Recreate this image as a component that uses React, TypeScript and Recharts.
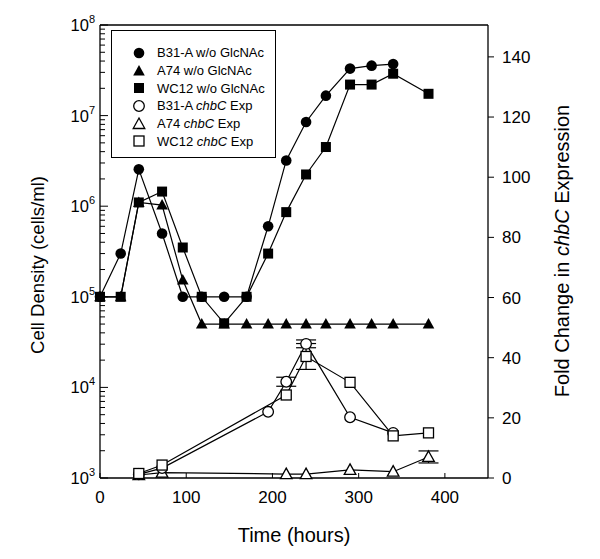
import React from "react";
import {
  ComposedChart,
  Line,
  XAxis,
  YAxis,
  ReferenceLine,
  ErrorBar,
  Legend,
} from "recharts";

// sampling times (hours)
const times = [0, 24, 45, 72, 96, 118, 144, 170, 195, 216, 239, 262, 290, 315, 340, 381];

// cell density (cells/ml), left log axis
const b31Density = [1e5, 3e5, 2.55e6, 5e5, 1e5, 1e5, 1e5, 1e5, 6e5, 3.2e6, 8.5e6, 1.66e7, 3.3e7, 3.56e7, 3.7e7, null];
const a74Density = [1e5, 1e5, 1.1e6, 1.03e6, 1.53e5, 5e4, 5e4, 5e4, 5e4, 5e4, 5e4, 5e4, 5e4, 5e4, 5e4, 5e4];
const wc12Density = [1e5, 1e5, 1.1e6, 1.45e6, 3.5e5, 1e5, 5.1e4, 1e5, 3e5, 8.6e5, 2.24e6, 4.5e6, 2.2e7, 2.2e7, 2.9e7, 1.74e7];

// fold change in chbC expression, right axis
const b31Fold = [null, null, 1.2, 3.3, null, null, null, null, 22, 32, 44.6, null, 20.2, null, 15, null];
const a74Fold = [null, null, 1, 1.8, null, null, null, null, null, 1.3, 1.3, null, 2.7, null, 2.1, 7];
const wc12Fold = [null, null, 1.5, 4.3, null, null, null, null, null, 27.6, 40.4, null, 31.8, null, 14, 15];
const b31FoldErr = [null, null, null, null, null, null, null, null, null, 1.5, 1.3, null, null, null, null, null];
const a74FoldErr = [null, null, null, null, null, null, null, null, null, null, null, null, null, null, null, 2];
const wc12FoldErr = [null, null, null, null, null, null, null, null, null, null, 4.3, null, null, null, null, null];

const xTicks = [0, 100, 200, 300, 400];
const rightTicks = [0, 20, 40, 60, 80, 100, 120, 140];
const decades = [3, 4, 5, 6, 7, 8];

const logTicks: number[] = [];
decades.forEach((d) => {
  logTicks.push(Math.pow(10, d));
  if (d < 8) for (let m = 2; m <= 9; m++) logTicks.push(m * Math.pow(10, d));
});

const data = times.map((t, i) => ({
  t,
  b31Density: b31Density[i],
  a74Density: a74Density[i],
  wc12Density: wc12Density[i],
  b31Fold: b31Fold[i],
  a74Fold: a74Fold[i],
  wc12Fold: wc12Fold[i],
  b31FoldErr: b31FoldErr[i],
  a74FoldErr: a74FoldErr[i],
  wc12FoldErr: wc12FoldErr[i],
}));

const FONT = "'Liberation Sans', Arial, sans-serif";
const PLOT_LEFT = 100;
const PLOT_BOTTOM = 478;

const Marker = ({ shape, open, cx, cy }) => {
  const fill = open ? "#fff" : "#000";
  const sw = open ? 1.3 : 0;
  if (shape === "circle") return <circle cx={cx} cy={cy} r={5.3} fill={fill} stroke="#000" strokeWidth={sw} />;
  if (shape === "square") return <rect x={cx - 5} y={cy - 5} width={10} height={10} fill={fill} stroke="#000" strokeWidth={sw} />;
  return (
    <polygon
      points={`${cx},${cy - 6} ${cx + 5.8},${cy + 4.5} ${cx - 5.8},${cy + 4.5}`}
      fill={fill}
      stroke="#000"
      strokeWidth={sw}
    />
  );
};

const makeDot = (shape: string, open: boolean) => (props) => {
  const { cx, cy, value, index } = props;
  if (value == null || cx == null || cy == null || isNaN(cy)) return <g key={index} />;
  return (
    <g key={index}>
      <Marker shape={shape} open={open} cx={cx} cy={cy} />
    </g>
  );
};

const LogTick = ({ y, payload }) => {
  const v = payload.value;
  const exp = Math.round(Math.log10(v));
  const major = Math.abs(v - Math.pow(10, exp)) < 1e-6 * v;
  return (
    <g>
      <line x1={PLOT_LEFT} x2={PLOT_LEFT + (major ? 8 : 5)} y1={y} y2={y} stroke="#000" strokeWidth={1} />
      {major && (
        <text x={95} y={y + 6} textAnchor="end" fontSize={16.5} fontFamily={FONT} fill="#000">
          <tspan>10</tspan>
          <tspan dy={-8} fontSize={11}>{exp}</tspan>
        </text>
      )}
    </g>
  );
};

const XTick = ({ x, payload }) => (
  <g>
    <line x1={x} x2={x} y1={PLOT_BOTTOM} y2={PLOT_BOTTOM - 5} stroke="#000" strokeWidth={1} />
    <text x={x} y={PLOT_BOTTOM + 25} textAnchor="middle" fontSize={17} fontFamily={FONT} fill="#000">
      {payload.value}
    </text>
  </g>
);

const legendItems = [
  { shape: "circle", open: false, name: "B31-A", rest: " w/o GlcNAc" },
  { shape: "triangle", open: false, name: "A74", rest: " w/o GlcNAc" },
  { shape: "square", open: false, name: "WC12", rest: " w/o GlcNAc" },
  { shape: "circle", open: true, name: "B31-A", rest: "chbC" },
  { shape: "triangle", open: true, name: "A74", rest: "chbC" },
  { shape: "square", open: true, name: "WC12", rest: "chbC" },
];

const LegendBox = () => (
  <div
    style={{
      width: 165,
      height: 128,
      border: "1.3px solid #000",
      background: "#fff",
      fontFamily: FONT,
      fontSize: 13,
      paddingTop: 13,
      boxSizing: "border-box",
    }}
  >
    {legendItems.map((it, i) => (
      <div key={i} style={{ display: "flex", alignItems: "center", height: 17.7, whiteSpace: "nowrap" }}>
        <svg width={35} height={16} style={{ marginLeft: 10 }}>
          <Marker shape={it.shape} open={it.open} cx={17} cy={8} />
        </svg>
        <span>
          {it.name}
          {it.open ? (
            <>
              {" "}
              <i>chbC</i> Exp
            </>
          ) : (
            it.rest
          )}
        </span>
      </div>
    ))}
  </div>
);

const App = () => (
  <div style={{ position: "absolute", left: 0, top: 0, width: 600, height: 559, background: "#fff" }}>
    <ComposedChart width={600} height={559} data={data} margin={{ top: 25, right: 52, bottom: 51, left: 40 }}>
      <XAxis
        dataKey="t"
        type="number"
        domain={[0, 450]}
        ticks={xTicks}
        height={30}
        tick={<XTick />}
        tickLine={false}
        axisLine={{ stroke: "#000", strokeWidth: 1.3 }}
      />
      <YAxis
        yAxisId="left"
        type="number"
        scale="log"
        domain={[1000, 1e8]}
        allowDataOverflow
        ticks={logTicks}
        interval={0}
        width={60}
        tick={<LogTick />}
        tickLine={false}
        axisLine={{ stroke: "#000", strokeWidth: 1.3 }}
      />
      <YAxis
        yAxisId="right"
        orientation="right"
        type="number"
        domain={[0, 150.6]}
        ticks={rightTicks}
        interval={0}
        width={60}
        tickSize={6}
        tickMargin={8}
        tick={{ fill: "#000", fontSize: 17, fontFamily: FONT }}
        tickLine={{ stroke: "#000" }}
        axisLine={{ stroke: "#000", strokeWidth: 1.3 }}
      />
      <ReferenceLine yAxisId="left" y={1e8} stroke="#000" strokeWidth={1.3} />
      <Legend
        layout="vertical"
        align="center"
        verticalAlign="middle"
        content={<LegendBox />}
        wrapperStyle={{ left: 111, top: 30, width: 166, height: 128 }}
      />

      <Line yAxisId="left" dataKey="b31Density" stroke="#000" strokeWidth={1.2} dot={makeDot("circle", false)} connectNulls isAnimationActive={false} />
      <Line yAxisId="left" dataKey="wc12Density" stroke="#000" strokeWidth={1.2} dot={makeDot("square", false)} connectNulls isAnimationActive={false} />
      <Line yAxisId="left" dataKey="a74Density" stroke="#000" strokeWidth={1.2} dot={makeDot("triangle", false)} connectNulls isAnimationActive={false} />

      <Line yAxisId="right" dataKey="a74Fold" stroke="#000" strokeWidth={1.2} dot={makeDot("triangle", true)} connectNulls isAnimationActive={false}>
        <ErrorBar dataKey="a74FoldErr" width={10} stroke="#000" strokeWidth={1.2} direction="y" />
      </Line>
      <Line yAxisId="right" dataKey="b31Fold" stroke="#000" strokeWidth={1.2} dot={makeDot("circle", true)} connectNulls isAnimationActive={false}>
        <ErrorBar dataKey="b31FoldErr" width={10} stroke="#000" strokeWidth={1.2} direction="y" />
      </Line>
      <Line yAxisId="right" dataKey="wc12Fold" stroke="#000" strokeWidth={1.2} dot={makeDot("square", true)} connectNulls isAnimationActive={false}>
        <ErrorBar dataKey="wc12FoldErr" width={10} stroke="#000" strokeWidth={1.2} direction="y" />
      </Line>

      <text x={37} y={265} transform="rotate(-90 37 265)" textAnchor="middle" dominantBaseline="central" fontSize={18.5} fontFamily={FONT} fill="#000">
        Cell Density (cells/ml)
      </text>
      <text x={294} y={542} textAnchor="middle" fontSize={20} fontFamily={FONT} fill="#000">
        Time (hours)
      </text>
      <text x={562} y={251} transform="rotate(-90 562 251)" textAnchor="middle" dominantBaseline="central" fontSize={20} fontFamily={FONT} fill="#000">
        Fold Change in <tspan fontStyle="italic">chbC</tspan> Expression
      </text>
    </ComposedChart>
  </div>
);

export default App;
